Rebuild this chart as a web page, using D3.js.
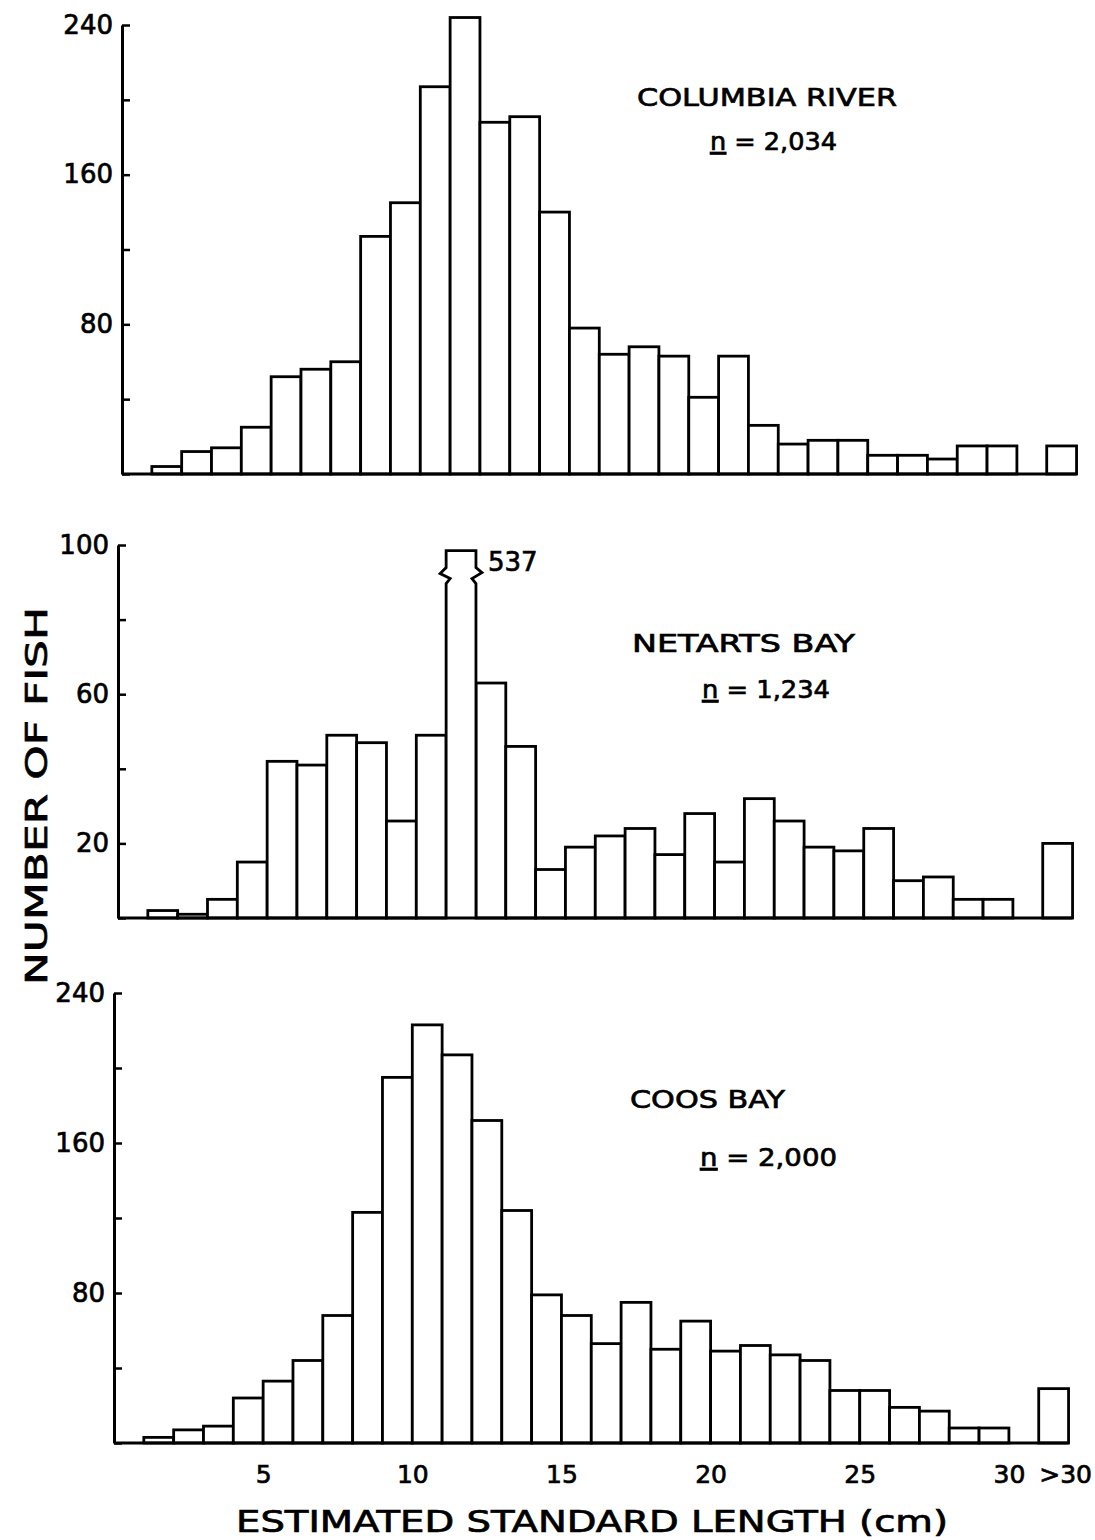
<!DOCTYPE html>
<html>
<head>
<meta charset="utf-8">
<script src="https://cdn.jsdelivr.net/npm/d3@7"></script>
<style>
body { margin: 0; background: #fff; }
text { font-family: "DejaVu Sans", sans-serif; fill: #000; stroke: #000; stroke-width: 0.7px; }
</style>
</head>
<body>
<script>
// length classes in cm, 31 stands for the ">30" class
var bins = [1, 2, 3, 4, 5, 6, 7, 8, 9, 10, 11, 12, 13, 14, 15, 16, 17, 18, 19, 20,
            21, 22, 23, 24, 25, 26, 27, 28, 29, 30, 31];
var columbia = [4, 12, 14, 25, 52, 56, 60, 127, 145, 207, 244, 188, 191, 140, 78, 64,
                68, 63, 41, 63, 26, 16, 18, 18, 10, 10, 8, 15, 15, 0, 15];
var netarts = [2, 1, 5, 15, 42, 41, 49, 47, 26, 49, 537, 63, 46, 13, 19, 22,
               24, 17, 28, 15, 32, 26, 19, 18, 24, 10, 11, 5, 5, 0, 20];
var coos = [3, 7, 9, 24, 33, 44, 68, 123, 195, 223, 207, 172, 124, 79, 68, 53,
            75, 50, 65, 49, 52, 47, 44, 28, 28, 19, 17, 8, 8, 0, 29];

var xTickValues = [5, 10, 15, 20, 25, 30, 31];
var xTickLabels = ["5", "10", "15", "20", "25", "30", ">30"];
var bigTicks = [0, 40, 80, 120, 160, 200, 240];
var bigLabels = [80, 160, 240];
var smallTicks = [0, 20, 40, 60, 80, 100];
var smallLabels = [20, 60, 100];

var W = 1095, H = 1540;
var binW = 29.83;

var svg = d3.select("body").append("svg")
    .attr("width", W)
    .attr("height", H);
svg.append("rect").attr("width", W).attr("height", H).attr("fill", "#fff");

// breakAbove: bars taller than this get the broken top
var panels = [
    { values: columbia, name: "COLUMBIA  RIVER", n: "2,034", left: 122, top: 25, bottom: 474,
      max: 240, breakAbove: Infinity, ticks: bigTicks, labels: bigLabels,
      nameAt: [637, 106, 260], nAt: [710, 150, 127] },
    { values: netarts, name: "NETARTS  BAY", n: "1,234", left: 118, top: 545, bottom: 918,
      max: 100, breakAbove: 100, ticks: smallTicks, labels: smallLabels,
      nameAt: [632, 652, 223], nAt: [702, 698, 128] },
    { values: coos, name: "COOS  BAY", n: "2,000", left: 114, top: 993, bottom: 1443,
      max: 240, breakAbove: Infinity, ticks: bigTicks, labels: bigLabels,
      nameAt: [630, 1108, 155], nAt: [700, 1166, 137] }
];

function drawPanel(p, withXAxis) {
    var x = d3.scaleLinear().domain([0, 32]).range([p.left, p.left + 32 * binW]);
    var y = d3.scaleLinear().domain([0, p.max]).range([p.bottom, p.top]);
    var g = svg.append("g");

    var data = bins.map(function (b, i) { return { bin: b, value: p.values[i] }; })
        .filter(function (d) { return d.value > 0; });

    // ordinary bars
    g.selectAll("rect.bar")
        .data(data.filter(function (d) { return d.value <= p.breakAbove; }))
        .enter().append("rect")
        .attr("class", "bar")
        .attr("x", function (d) { return x(d.bin); })
        .attr("y", function (d) { return y(d.value); })
        .attr("width", function (d) { return x(d.bin + 1) - x(d.bin); })
        .attr("height", function (d) { return y(0) - y(d.value); })
        .attr("fill", "#fff")
        .attr("stroke", "#000")
        .attr("stroke-width", 2.8);

    // off-scale bar, drawn with a break and its count
    data.filter(function (d) { return d.value > p.breakAbove; }).forEach(function (d) {
        var xl = x(d.bin), xr = x(d.bin + 1), yt = y(p.breakAbove * 0.985), yb = y(0);
        var pts = [[xl, yb], [xl, yt + 33], [xl + 4, yt + 28], [xl - 6, yt + 23], [xl, yt + 17],
                   [xl, yt], [xr, yt], [xr, yt + 17], [xr + 6, yt + 22], [xr - 4, yt + 28],
                   [xr, yt + 33], [xr, yb]];
        g.append("path")
            .attr("d", d3.line()(pts))
            .attr("fill", "#fff")
            .attr("stroke", "#000")
            .attr("stroke-width", 2.8)
            .attr("stroke-linejoin", "miter");
        g.append("text")
            .attr("x", xr + 12)
            .attr("y", yt + 20)
            .attr("font-size", 26)
            .text(d.value);
    });

    // baseline
    g.append("line")
        .attr("x1", x(0)).attr("x2", x(32))
        .attr("y1", y(0)).attr("y2", y(0))
        .attr("stroke", "#000").attr("stroke-width", 3);

    // y axis, ticks pointing inward
    var yAxis = g.append("g")
        .attr("transform", "translate(" + x(0) + ",0)")
        .call(d3.axisLeft(y)
            .tickValues(p.ticks)
            .tickSizeInner(-8)
            .tickSizeOuter(0)
            .tickPadding(9)
            .tickFormat(function (d) { return p.labels.indexOf(d) >= 0 ? d : ""; }));
    yAxis.select(".domain").attr("stroke-width", 3);
    yAxis.selectAll(".tick line").attr("stroke-width", 2.5);
    yAxis.selectAll(".tick text").attr("font-size", 26).attr("fill", "#000")
        .style("font-family", "DejaVu Sans");

    // site name and sample size
    g.append("text")
        .attr("x", p.nameAt[0]).attr("y", p.nameAt[1])
        .attr("font-size", 25)
        .attr("textLength", p.nameAt[2]).attr("lengthAdjust", "spacingAndGlyphs")
        .text(p.name);
    var nt = g.append("text")
        .attr("x", p.nAt[0]).attr("y", p.nAt[1])
        .attr("font-size", 25)
        .attr("textLength", p.nAt[2]).attr("lengthAdjust", "spacingAndGlyphs");
    nt.append("tspan").style("text-decoration", "underline").text("n");
    nt.append("tspan").text(" = " + p.n);

    if (withXAxis) {
        var xAxis = g.append("g")
            .attr("transform", "translate(0," + (y(0) + 17) + ")")
            .call(d3.axisBottom(x)
                .tickValues(xTickValues)
                .tickSize(0)
                .tickPadding(0)
                .tickFormat(function (d, i) { return xTickLabels[i]; }));
        xAxis.select(".domain").remove();
        xAxis.selectAll(".tick text")
            .attr("font-size", 25).attr("fill", "#000")
            .style("font-family", "DejaVu Sans")
            .attr("dy", "0.9em")
            .attr("text-anchor", function (d) { return d === 31 ? "start" : "middle"; });
    }
}

drawPanel(panels[0], false);
drawPanel(panels[1], false);
drawPanel(panels[2], true);

// axis titles
svg.append("text")
    .attr("transform", "translate(47,796) rotate(-90)")
    .attr("text-anchor", "middle")
    .attr("font-size", 30)
    .attr("textLength", 378).attr("lengthAdjust", "spacingAndGlyphs")
    .text("NUMBER  OF  FISH");

svg.append("text")
    .attr("x", 236).attr("y", 1532)
    .attr("font-size", 30)
    .attr("textLength", 712).attr("lengthAdjust", "spacingAndGlyphs")
    .text("ESTIMATED  STANDARD  LENGTH  (cm)");
</script>
</body>
</html>
